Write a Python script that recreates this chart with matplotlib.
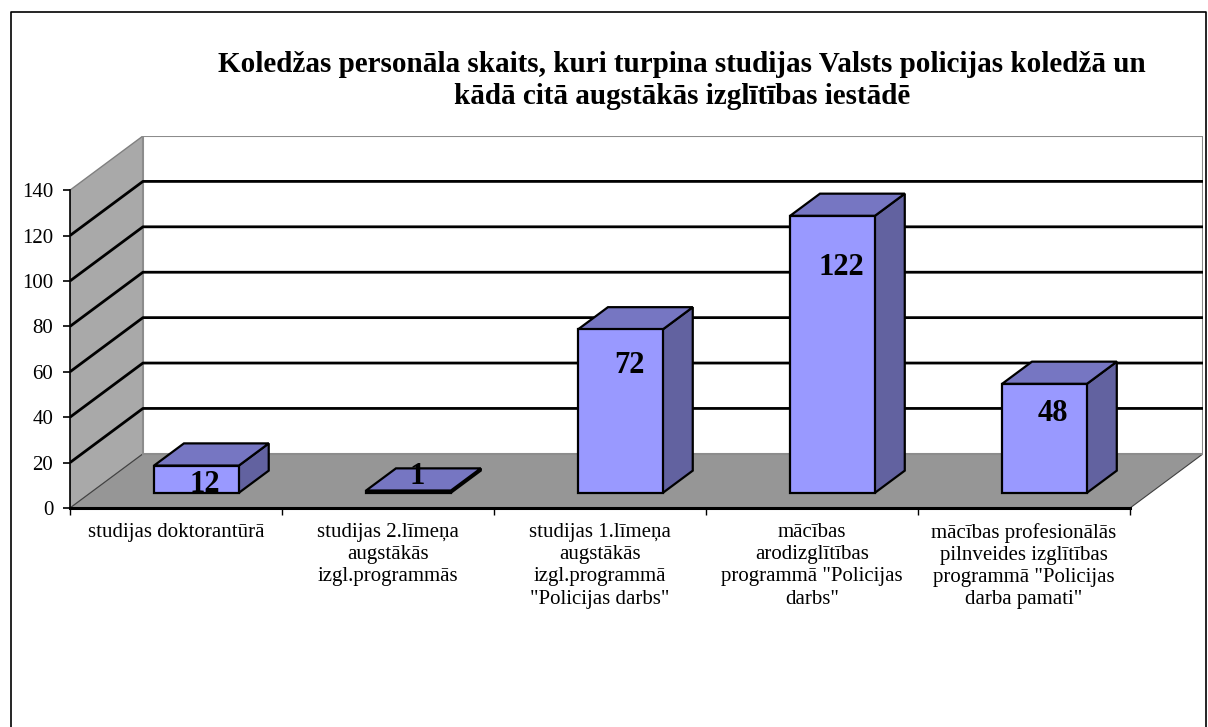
import matplotlib
matplotlib.use("Agg")
import matplotlib.pyplot as plt
from matplotlib.patches import Polygon
from matplotlib.lines import Line2D

categories = [
    "studijas doktorantūrā",
    "studijas 2.līmeņa\naugstākās\nizgl.programmās",
    "studijas 1.līmeņa\naugstākās\nizgl.programmā\n\"Policijas darbs\"",
    "mācības\narodizglītības\nprogrammā \"Policijas\ndarbs\"",
    "mācības profesionālās\npilnveides izglītības\nprogrammā \"Policijas\ndarba pamati\"",
]
values = [12, 1, 72, 122, 48]
yticks = [0, 20, 40, 60, 80, 100, 120, 140]
title = ("Koledžas personāla skaits, kuri turpina studijas Valsts policijas koledžā un\n"
         "kādā citā augstākās izglītības iestādē")

SERIF = ["Liberation Serif", "DejaVu Serif"]
W, H = 1208, 727
fig = plt.figure(figsize=(W / 100, H / 100), dpi=100)

# pseudo-3D depth offset (in data units)
DX, DY = 0.344, 23.85
YMAX = 140
n = len(categories)

left_px, right_px, bottom_px, top_px = 70, 1203, 508, 136
ax = fig.add_axes([left_px / W, (H - bottom_px) / H,
                   (right_px - left_px) / W, (bottom_px - top_px) / H])
ax.set_xlim(0, n + DX)
ax.set_ylim(0, YMAX + DY)
ax.patch.set_visible(False)

def P(x, y, d):
    return (x + d * DX, y + d * DY)

# left wall
ax.add_patch(Polygon([P(0, 0, 0), P(0, YMAX, 0), P(0, YMAX, 1), P(0, 0, 1)],
                     closed=True, facecolor="#A9A9A9", edgecolor="#808080", lw=1, zorder=1))
# floor
ax.add_patch(Polygon([P(0, 0, 0), P(n, 0, 0), P(n, 0, 1), P(0, 0, 1)],
                     closed=True, facecolor="#969696", edgecolor="#404040", lw=0.8, zorder=1))
# back wall
ax.add_patch(Polygon([P(0, 0, 1), P(n, 0, 1), P(n, YMAX, 1), P(0, YMAX, 1)],
                     closed=True, facecolor="white", edgecolor="#8C8C8C", lw=1.5, zorder=1))

# gridlines (back wall + left wall)
for v in yticks[1:-1]:
    xs = [P(0, v, 0)[0], P(0, v, 1)[0], P(n, v, 1)[0]]
    ys = [P(0, v, 0)[1], P(0, v, 1)[1], P(n, v, 1)[1]]
    ax.plot(xs, ys, color="black", lw=2, zorder=2, solid_capstyle="butt")

# bars
d1, d2 = 0.28, 0.69
bw = 0.4
front_c, top_c, side_c = "#9999FF", "#7676C2", "#6262A0"
for i, v in enumerate(values):
    x0 = i + 0.5 - bw / 2
    x1 = i + 0.5 + bw / 2
    side = [P(x1, 0, d1), P(x1, 0, d2), P(x1, v, d2), P(x1, v, d1)]
    top = [P(x0, v, d1), P(x1, v, d1), P(x1, v, d2), P(x0, v, d2)]
    front = [P(x0, 0, d1), P(x1, 0, d1), P(x1, v, d1), P(x0, v, d1)]
    for poly, c in ((side, side_c), (top, top_c), (front, front_c)):
        ax.add_patch(Polygon(poly, closed=True, facecolor=c, edgecolor="black",
                             lw=1.6, joinstyle="miter", zorder=3))
    ly = 0.87 * v if 0.87 * v > 5 else v + 13
    ax.text(i + 0.5 + 0.4 * DX, ly, str(v), ha="center", va="center",
            fontsize=22, fontweight="bold", family=SERIF, zorder=5)

# spines / axes
for s in ("top", "right"):
    ax.spines[s].set_visible(False)
ax.spines["left"].set_bounds(0, YMAX)
ax.spines["bottom"].set_bounds(0, n)
ax.spines["left"].set_linewidth(1.2)
ax.spines["bottom"].set_linewidth(2.2)
ax.spines["left"].set_zorder(4)
ax.spines["bottom"].set_zorder(4)

ax.set_yticks(yticks)
ax.set_yticklabels([str(t) for t in yticks], family=SERIF, fontsize=15)
ax.tick_params(axis="y", length=5, width=1.2, pad=7)

ax.set_xticks(range(n + 1))
ax.set_xticklabels([""] * (n + 1))
ax.set_xticks([i + 0.5 for i in range(n)], minor=True)
ax.set_xticklabels(categories, minor=True, family=SERIF, fontsize=15,
                   linespacing=1.22, va="top")
ax.tick_params(axis="x", which="major", length=5, width=1, direction="out")
ax.tick_params(axis="x", which="minor", length=0, pad=11)

# title
fig.text(682 / W, 1 - 80.5 / H, title, ha="center", va="center", family=SERIF,
         fontsize=21, fontweight="bold", linespacing=1.2)

# figure border (inset frame, open at bottom)
fx0, fy0, fx1 = 11 / W, 1 - 12 / H, 1206 / W
fig.add_artist(Line2D([fx0, fx0, fx1, fx1], [0, fy0, fy0, 0],
                      transform=fig.transFigure, color="black", lw=1.2))

fig.savefig("out.png", dpi=100)
